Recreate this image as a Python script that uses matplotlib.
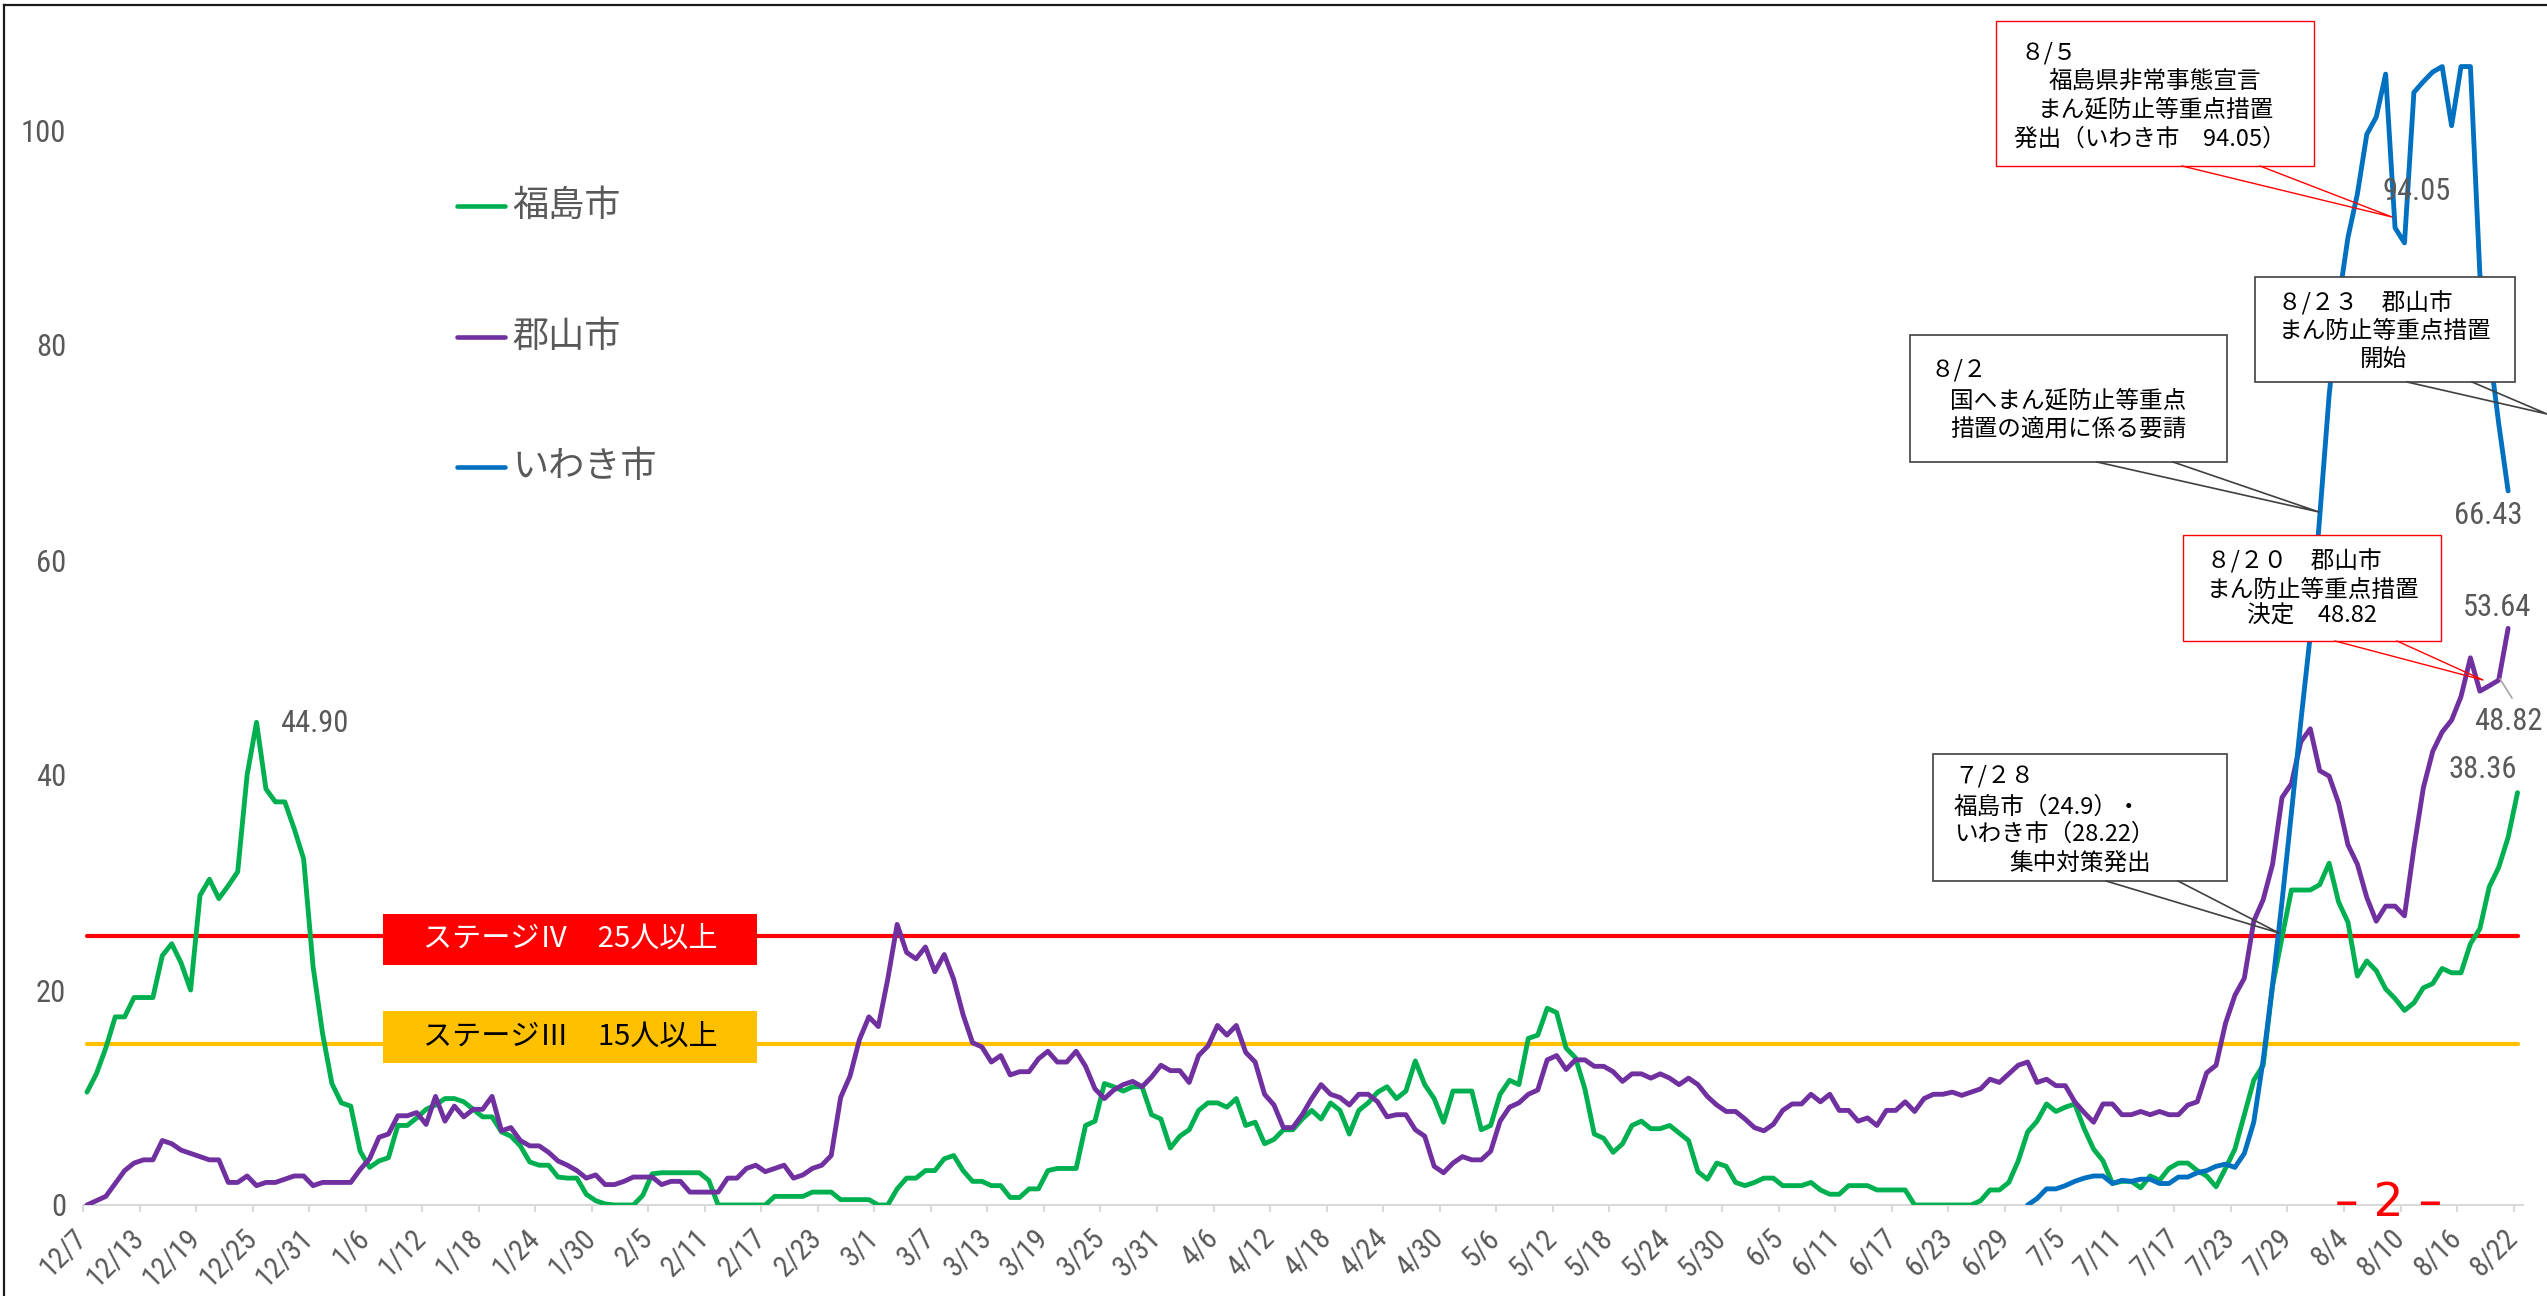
import matplotlib
matplotlib.use('Agg')
import matplotlib.pyplot as plt
import numpy as np
import pandas as pd
from matplotlib.lines import Line2D
from matplotlib.patches import Rectangle
from matplotlib import font_manager

W, H, DPI = 2547, 1296, 100

# ---------------- data ----------------
dates = pd.date_range('2020-12-07', '2021-08-22', freq='D')
date_labels = [f"{d.month}/{d.day}" for d in dates]

fukushima = [10.5, 12.2, 14.6, 17.5, 17.5, 19.3, 19.3, 19.3, 23.2, 24.3,
             22.5, 20.0, 28.8, 30.3, 28.5, 29.7, 31.0, 40.0, 44.9, 38.7,
             37.5, 37.5, 35.0, 32.2, 22.2, 16.0, 11.3, 9.5, 9.2, 5.0,
             3.5, 4.1, 4.4, 7.4, 7.4, 8.1, 8.9, 9.3, 9.9, 9.9,
             9.6, 8.9, 8.2, 8.2, 6.8, 6.4, 5.5, 4.0, 3.7, 3.7,
             2.6, 2.5, 2.5, 1.0, 0.4, 0.1, 0.0, 0.0, 0.0, 0.9,
             2.9, 3.0, 3.0, 3.0, 3.0, 3.0, 2.3, 0.0, 0.0, 0.0,
             0.0, 0.0, 0.0, 0.8, 0.8, 0.8, 0.8, 1.2, 1.2, 1.2,
             0.5, 0.5, 0.5, 0.5, 0.0, 0.0, 1.5, 2.5, 2.5, 3.2,
             3.2, 4.3, 4.6, 3.2, 2.2, 2.2, 1.8, 1.8, 0.7, 0.7,
             1.5, 1.5, 3.2, 3.4, 3.4, 3.4, 7.4, 7.8, 11.3, 11.0,
             10.6, 11.0, 11.0, 8.4, 8.0, 5.3, 6.4, 7.0, 8.8, 9.5,
             9.5, 9.1, 9.9, 7.4, 7.7, 5.7, 6.1, 7.0, 7.0, 8.0,
             8.8, 8.0, 9.5, 8.8, 6.6, 8.8, 9.5, 10.5, 11.0, 9.9,
             10.6, 13.4, 11.2, 9.9, 7.7, 10.6, 10.6, 10.6, 7.0, 7.4,
             10.3, 11.6, 11.2, 15.5, 15.8, 18.3, 17.9, 14.6, 13.7, 10.8,
             6.6, 6.2, 4.9, 5.7, 7.4, 7.8, 7.1, 7.1, 7.4, 6.7,
             6.0, 3.1, 2.4, 3.9, 3.6, 2.1, 1.8, 2.1, 2.5, 2.5,
             1.8, 1.8, 1.8, 2.1, 1.4, 1.0, 1.0, 1.8, 1.8, 1.8,
             1.4, 1.4, 1.4, 1.4, 0.0, 0.0, 0.0, 0.0, 0.0, 0.0,
             0.0, 0.4, 1.4, 1.4, 2.1, 4.1, 6.8, 7.8, 9.4, 8.7,
             9.1, 9.4, 7.1, 5.2, 4.1, 2.0, 2.2, 2.2, 1.6, 2.7,
             2.3, 3.4, 3.9, 3.9, 3.2, 2.7, 1.7, 3.4, 5.2, 8.4,
             11.6, 13.0, 20.4, 24.9, 29.3, 29.3, 29.3, 29.8, 31.8, 28.2,
             26.3, 21.3, 22.7, 21.8, 20.1, 19.2, 18.1, 18.8, 20.2, 20.6,
             22.0, 21.6, 21.6, 24.3, 25.7, 29.6, 31.4, 34.2, 38.36]

koriyama = [0.0, 0.4, 0.8, 2.0, 3.2, 3.9, 4.2, 4.2, 6.0, 5.7,
            5.1, 4.8, 4.5, 4.2, 4.2, 2.1, 2.1, 2.7, 1.8, 2.1,
            2.1, 2.4, 2.7, 2.7, 1.8, 2.1, 2.1, 2.1, 2.1, 3.3,
            4.3, 6.3, 6.6, 8.3, 8.3, 8.6, 7.5, 10.1, 7.8, 9.2,
            8.2, 8.9, 8.9, 10.1, 6.9, 7.2, 6.0, 5.5, 5.5, 4.9,
            4.1, 3.7, 3.2, 2.5, 2.8, 1.9, 1.9, 2.2, 2.6, 2.6,
            2.6, 1.9, 2.2, 2.2, 1.2, 1.2, 1.2, 1.2, 2.5, 2.5,
            3.4, 3.7, 3.1, 3.4, 3.7, 2.5, 2.8, 3.4, 3.7, 4.6,
            10.0, 12.0, 15.4, 17.5, 16.6, 21.0, 26.1, 23.5, 22.9, 24.0,
            21.7, 23.3, 21.0, 17.7, 15.1, 14.7, 13.3, 13.9, 12.1, 12.4,
            12.4, 13.6, 14.3, 13.3, 13.3, 14.3, 12.9, 10.8, 9.9, 10.7,
            11.2, 11.5, 11.0, 11.9, 13.0, 12.5, 12.5, 11.4, 13.9, 14.8,
            16.7, 15.8, 16.7, 14.2, 13.3, 10.3, 9.3, 7.2, 7.2, 8.4,
            9.9, 11.2, 10.3, 10.0, 9.3, 10.3, 10.3, 9.6, 8.2, 8.4,
            8.4, 7.0, 6.4, 3.6, 3.0, 3.9, 4.5, 4.2, 4.2, 5.0,
            7.8, 9.1, 9.5, 10.3, 10.7, 13.5, 13.9, 12.6, 13.5, 13.5,
            12.9, 12.9, 12.4, 11.5, 12.2, 12.2, 11.8, 12.2, 11.8, 11.2,
            11.8, 11.2, 10.1, 9.3, 8.7, 8.7, 8.0, 7.2, 6.9, 7.5,
            8.8, 9.4, 9.4, 10.3, 9.6, 10.3, 8.8, 8.8, 7.8, 8.1,
            7.4, 8.8, 8.8, 9.6, 8.7, 9.9, 10.3, 10.3, 10.5, 10.2,
            10.5, 10.8, 11.7, 11.4, 12.2, 13.0, 13.3, 11.4, 11.7, 11.1,
            11.1, 9.6, 8.6, 7.7, 9.4, 9.4, 8.4, 8.4, 8.7, 8.4,
            8.7, 8.4, 8.4, 9.3, 9.6, 12.3, 13.0, 16.9, 19.5, 21.1,
            26.4, 28.4, 31.7, 37.9, 39.2, 43.1, 44.3, 40.4, 39.9, 37.4,
            33.5, 31.7, 28.6, 26.4, 27.8, 27.8, 26.9, 33.2, 38.8, 42.2,
            44.0, 45.1, 47.3, 50.9, 47.8, 48.3, 48.82, 53.64]

iwaki_start = '2021-07-01'
iwaki = [0.0, 0.6, 1.5, 1.5, 1.8, 2.2, 2.5, 2.7, 2.7, 2.0,
         2.3, 2.2, 2.4, 2.4, 2.0, 2.0, 2.6, 2.6, 3.0, 3.2,
         3.6, 3.8, 3.5, 4.8, 7.7, 13.5, 20.5, 28.22, 36.5, 45.0,
         53.0, 64.0, 75.3, 84.0, 90.0, 94.05, 99.6, 101.2, 105.2, 90.9,
         89.5, 103.5, 104.5, 105.4, 105.9, 100.4, 105.9, 105.9, 86.6, 79.7,
         72.7, 66.43]

series_names = ['福島市', '郡山市', 'いわき市']
series_colors = ['#00B050', '#7030A0', '#0070C0']
stage4_value, stage3_value = 25, 15
stage4_text = 'ステージⅣ　25人以上'
stage3_text = 'ステージⅢ　15人以上'
yticks = [0, 20, 40, 60, 80, 100]

# ---------------- fonts ----------------
plt.rcParams['font.family'] = ['Noto Sans CJK JP', 'DejaVu Sans']
_entries = font_manager.fontManager.ttflist
_names = {f.name for f in _entries}
NUM_STRETCH = 'normal'
NUM_SCALE = 1.0
NUMFAMILY = None
for cand in ['Liberation Sans Narrow', 'Roboto Condensed', 'Open Sans Condensed',
             'DejaVu Sans Condensed', 'Noto Sans Condensed', 'Arial Narrow']:
    if cand in _names:
        NUMFAMILY = cand
        break
if NUMFAMILY is None:
    for f in _entries:
        if ('Condensed' in f.name or 'Narrow' in f.name) and 'Mono' not in f.name \
                and 'Serif' not in f.name:
            NUMFAMILY = f.name
            break
if NUMFAMILY is None:
    for f in _entries:
        if str(f.stretch) in ('condensed', 'semi-condensed', '75', '87', 'extra-condensed') \
                and 'Mono' not in f.name and 'Serif' not in f.name:
            NUMFAMILY = f.name
            NUM_STRETCH = 'condensed'
            break
if NUMFAMILY is None:
    NUMFAMILY = 'DejaVu Sans'
    NUM_SCALE = 0.78
NUMFONT = [NUMFAMILY, 'DejaVu Sans']
GRAY = '#595959'


def nfs(s):
    return s * NUM_SCALE


fig = plt.figure(figsize=(W / DPI, H / DPI), dpi=DPI)
fig.patch.set_facecolor('white')

X0, X1, YB, YT = 83, 2523, 1205, 8
ax = fig.add_axes([X0 / W, 1 - YB / H, (X1 - X0) / W, (YB - YT) / H])
ax.set_xlim(0, 259)
ax.set_ylim(0, (YB - YT) / 10.75)
ax.patch.set_alpha(0)

off = 0.42
n = len(dates)
x_all = np.arange(n) + off
i0 = list(dates).index(pd.Timestamp(iwaki_start))

# stage lines
ax.plot([x_all[0], x_all[-1]], [stage4_value] * 2, color='#FF0000', lw=3.0,
        solid_capstyle='round', zorder=2)
ax.plot([x_all[0], x_all[-1]], [stage3_value] * 2, color='#FFC000', lw=3.0,
        solid_capstyle='round', zorder=2)

ax.plot(x_all[:len(fukushima)], fukushima, color=series_colors[0], lw=3.5,
        solid_joinstyle='round', solid_capstyle='round', zorder=3)
ax.plot(x_all[:len(koriyama)], koriyama, color=series_colors[1], lw=3.5,
        solid_joinstyle='round', solid_capstyle='round', zorder=4)
ax.plot(x_all[i0:i0 + len(iwaki)], iwaki, color=series_colors[2], lw=3.5,
        solid_joinstyle='round', solid_capstyle='round', zorder=5)

# axes styling
for s in ['top', 'right', 'left']:
    ax.spines[s].set_visible(False)
ax.spines['bottom'].set_color('#D9D9D9')
ax.spines['bottom'].set_linewidth(1.5)
ax.set_yticks(yticks)
ax.set_yticklabels([str(v) for v in yticks], family=NUMFONT, fontsize=nfs(22),
                   color=GRAY, fontstretch=NUM_STRETCH)
ax.tick_params(axis='y', length=0, pad=12)
xt = list(range(0, n, 6))
ax.set_xticks(xt)
ax.set_xticklabels([date_labels[i] for i in xt], family=NUMFONT, fontsize=nfs(21),
                   color=GRAY, rotation=45, ha='right', va='center',
                   rotation_mode='anchor', fontstretch=NUM_STRETCH)
ax.tick_params(axis='x', length=5, width=1.5, color='#D9D9D9', pad=16)


def fx(x):
    return x / W


def fy(y):
    return 1 - y / H


def ftext(x, y, s, **kw):
    kw.setdefault('va', 'center')
    fig.text(fx(x), fy(y), s, **kw)


# legend
for k, yy in enumerate([206, 337, 467]):
    fig.add_artist(Line2D([fx(457), fx(505)], [fy(yy), fy(yy)], color=series_colors[k],
                          lw=3.3, solid_capstyle='round'))
    ftext(512, yy, series_names[k], fontsize=26, color=GRAY, ha='left')

# stage boxes
fig.add_artist(Rectangle((fx(383), fy(965)), (757 - 383) / W, (965 - 914) / H,
                         transform=fig.transFigure, facecolor='#FF0000',
                         edgecolor='none', zorder=6))
ftext(570, 940, stage4_text, fontsize=21, color='white', ha='center', zorder=7)
fig.add_artist(Rectangle((fx(383), fy(1063)), (757 - 383) / W, (1063 - 1011) / H,
                         transform=fig.transFigure, facecolor='#FFC000',
                         edgecolor='none', zorder=6))
ftext(570, 1038, stage3_text, fontsize=21, color='black', ha='center', zorder=7)


def callout(x0, y0, x1, y1, b1, b2, tip, edge, lw):
    fig.add_artist(Rectangle((fx(x0), fy(y1)), (x1 - x0) / W, (y1 - y0) / H,
                             transform=fig.transFigure, facecolor='white',
                             edgecolor=edge, lw=lw, zorder=6))
    fig.add_artist(Line2D([fx(b1), fx(tip[0]), fx(b2)], [fy(y1), fy(tip[1]), fy(y1)],
                          color=edge, lw=lw, zorder=7))


CF = 17
# 8/5
callout(1996, 21, 2314, 166, 2182, 2260, (2392, 217), '#FF0000', 1.0)
ftext(2020, 53, '８/５', fontsize=CF, ha='left', zorder=8)
ftext(2155, 81, '福島県非常事態宣言', fontsize=CF, ha='center', zorder=8)
ftext(2156, 110, 'まん延防止等重点措置', fontsize=CF, ha='center', zorder=8)
ftext(2150, 139, '発出（いわき市　94.05）', fontsize=CF, ha='center', zorder=8)
# 8/23
callout(2255, 277, 2515, 382, 2407, 2472, (2547, 414), '#404040', 1.2)
ftext(2278, 303, '８/２３　郡山市', fontsize=CF, ha='left', zorder=8)
ftext(2385, 331, 'まん防止等重点措置', fontsize=CF, ha='center', zorder=8)
ftext(2384, 359, '開始', fontsize=CF, ha='center', zorder=8)
# 8/2
callout(1910, 335, 2227, 462, 2097, 2173, (2319, 512), '#404040', 1.2)
ftext(1931, 370, '８/２', fontsize=CF, ha='left', zorder=8)
ftext(2068, 401, '国へまん延防止等重点', fontsize=CF, ha='center', zorder=8)
ftext(2068, 430, '措置の適用に係る要請', fontsize=CF, ha='center', zorder=8)
# 8/20
callout(2183, 535, 2441, 641, 2335, 2397, (2483, 680), '#FF0000', 1.0)
ftext(2207, 561, '８/２０　郡山市', fontsize=CF, ha='left', zorder=8)
ftext(2313, 590, 'まん防止等重点措置', fontsize=CF, ha='center', zorder=8)
ftext(2312, 616, '決定　48.82', fontsize=CF, ha='center', zorder=8)
# 7/28
callout(1933, 754, 2227, 881, 2106, 2178, (2279, 933), '#404040', 1.2)
ftext(1954, 776, '７/２８', fontsize=CF, ha='left', zorder=8)
ftext(1954, 807, '福島市（24.9）・', fontsize=CF, ha='left', zorder=8)
ftext(1954, 834, 'いわき市（28.22）', fontsize=CF, ha='left', zorder=8)
ftext(2080, 864, '集中対策発出', fontsize=CF, ha='center', zorder=8)

# data labels
DL = nfs(22)
dl_kw = dict(fontsize=DL, color=GRAY, family=NUMFONT, fontstretch=NUM_STRETCH)
ftext(280, 723, '44.90', ha='left', **dl_kw)
ftext(2382, 192, '94.05', ha='left', **dl_kw)
ftext(2523, 516, '66.43', ha='right', **dl_kw)
ftext(2531, 607, '53.64', ha='right', **dl_kw)
ftext(2543, 721, '48.82', ha='right', **dl_kw)
ftext(2517, 769, '38.36', ha='right', **dl_kw)
fig.add_artist(Line2D([fx(2500), fx(2512)], [fy(679), fy(698)], color='#A6A6A6', lw=1.2))

# page number
ftext(2389, 1203, '– 2 –', fontsize=34, color='#FF0000', ha='center',
      family=['DejaVu Sans'])

# chart border (top and left)
fig.add_artist(Line2D([fx(4), fx(W)], [fy(5), fy(5)], color='#1A1A1A', lw=1.6))
fig.add_artist(Line2D([fx(4), fx(4)], [fy(5), fy(H)], color='#1A1A1A', lw=1.6))

fig.savefig('out.png', dpi=DPI, facecolor='white')
